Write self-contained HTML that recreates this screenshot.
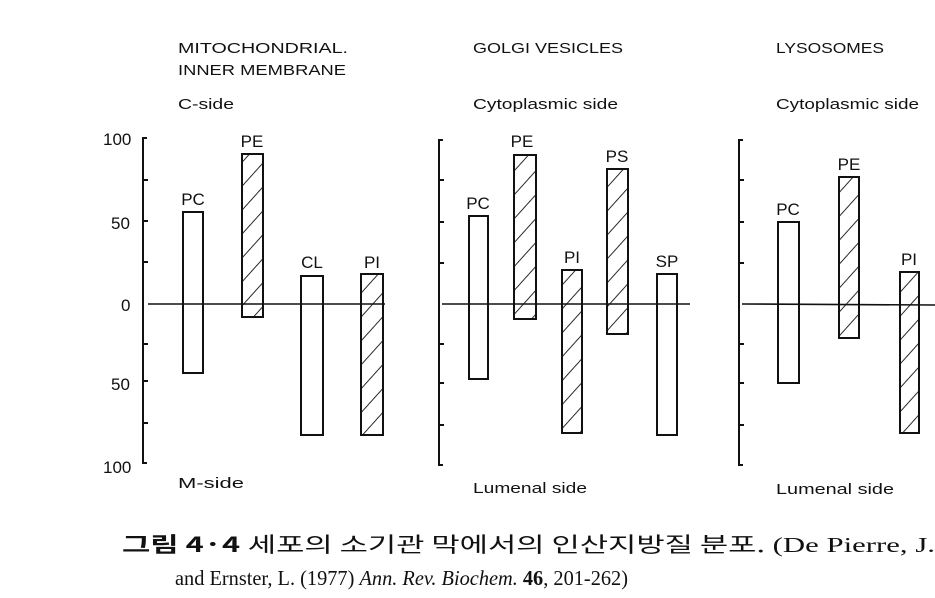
<!DOCTYPE html>
<html><head><meta charset="utf-8"><style>html,body{margin:0;padding:0;background:#fff}svg{display:block}</style></head>
<body>
<svg width="935" height="598" viewBox="0 0 935 598" xmlns="http://www.w3.org/2000/svg">
<defs>
<pattern id="h" width="16" height="16" patternUnits="userSpaceOnUse" patternTransform="rotate(-48)">
<line x1="0" y1="0" x2="16" y2="0" stroke="#111" stroke-width="1.8"/>
</pattern>
</defs>
<rect width="935" height="598" fill="#fff"/>
<g font-family="Liberation Sans, sans-serif" font-size="15" fill="#111">
<text x="178" y="53" textLength="170" lengthAdjust="spacingAndGlyphs">MITOCHONDRIAL.</text>
<text x="178" y="75" textLength="168" lengthAdjust="spacingAndGlyphs">INNER MEMBRANE</text>
<text x="473" y="53" textLength="150" lengthAdjust="spacingAndGlyphs">GOLGI VESICLES</text>
<text x="776" y="53" textLength="108" lengthAdjust="spacingAndGlyphs">LYSOSOMES</text>
<text x="178" y="109" textLength="56" lengthAdjust="spacingAndGlyphs">C-side</text>
<text x="473" y="109" textLength="145" lengthAdjust="spacingAndGlyphs">Cytoplasmic side</text>
<text x="776" y="109" textLength="143" lengthAdjust="spacingAndGlyphs">Cytoplasmic side</text>
<text x="178" y="488" textLength="66" lengthAdjust="spacingAndGlyphs">M-side</text>
<text x="473" y="493" textLength="114" lengthAdjust="spacingAndGlyphs">Lumenal side</text>
<text x="776" y="494" textLength="118" lengthAdjust="spacingAndGlyphs">Lumenal side</text>
<g font-size="17">
<text x="103" y="145">100</text>
<text x="111" y="229">50</text>
<text x="121" y="311">0</text>
<text x="111" y="390">50</text>
<text x="103" y="473">100</text>
</g>
</g>
<g stroke="#111" stroke-width="2" fill="none">
<path d="M147 138 H143 V463 H147"/>
<path d="M443 140 H439 V465 H443"/>
<path d="M743 140 H739 V465 H743"/>
<path d="M143 180h5M143 221h5M143 262h5M143 344h5M143 381h5M143 423h5"/>
<path d="M439 180h5M439 222h5M439 263h5M439 344h5M439 383h5M439 425h5"/>
<path d="M739 180h5M739 222h5M739 263h5M739 344h5M739 383h5M739 425h5"/>
<line x1="148" y1="304" x2="385" y2="304" stroke-width="1.6"/>
<line x1="442" y1="304" x2="690" y2="304" stroke-width="1.6"/>
<line x1="742" y1="304" x2="935" y2="305" stroke-width="1.6"/>
</g>
<g stroke="#111" stroke-width="2">
<rect x="183" y="212" width="20" height="161" fill="none"/>
<rect x="242" y="154" width="21" height="163" fill="url(#h)"/>
<rect x="301" y="276" width="22" height="159" fill="none"/>
<rect x="361" y="274" width="22" height="161" fill="url(#h)"/>
<rect x="469" y="216" width="19" height="163" fill="none"/>
<rect x="514" y="155" width="22" height="164" fill="url(#h)"/>
<rect x="562" y="270" width="20" height="163" fill="url(#h)"/>
<rect x="607" y="169" width="21" height="165" fill="url(#h)"/>
<rect x="657" y="274" width="20" height="161" fill="none"/>
<rect x="778" y="222" width="21" height="161" fill="none"/>
<rect x="839" y="177" width="20" height="161" fill="url(#h)"/>
<rect x="900" y="272" width="19" height="161" fill="url(#h)"/>
</g>
<g font-family="Liberation Sans, sans-serif" font-size="17" fill="#111" text-anchor="middle">
<text x="193" y="205">PC</text>
<text x="252" y="147">PE</text>
<text x="312" y="268">CL</text>
<text x="372" y="268">PI</text>
<text x="478" y="209">PC</text>
<text x="522" y="147">PE</text>
<text x="572" y="263">PI</text>
<text x="617" y="162">PS</text>
<text x="667" y="267">SP</text>
<text x="788" y="215">PC</text>
<text x="849" y="170">PE</text>
<text x="909" y="265">PI</text>
</g>
<g font-family="Liberation Serif, 'Noto Serif CJK SC', serif" font-size="21" fill="#111">
<text x="122" y="552" textLength="813" lengthAdjust="spacingAndGlyphs"><tspan font-weight="bold" font-family="'Noto Sans CJK KR', sans-serif">그림 4·4</tspan>  <tspan font-family="'Noto Sans CJK KR', sans-serif" font-weight="normal">세포의 소기관 막에서의 인산지방질 분포.</tspan>  (De Pierre, J.</text>
<text x="175" y="585" textLength="453" lengthAdjust="spacingAndGlyphs">and Ernster, L. (1977) <tspan font-style="italic">Ann. Rev. Biochem.</tspan> <tspan font-weight="bold">46</tspan>, 201-262)</text>
</g>
</svg>
</body></html>
